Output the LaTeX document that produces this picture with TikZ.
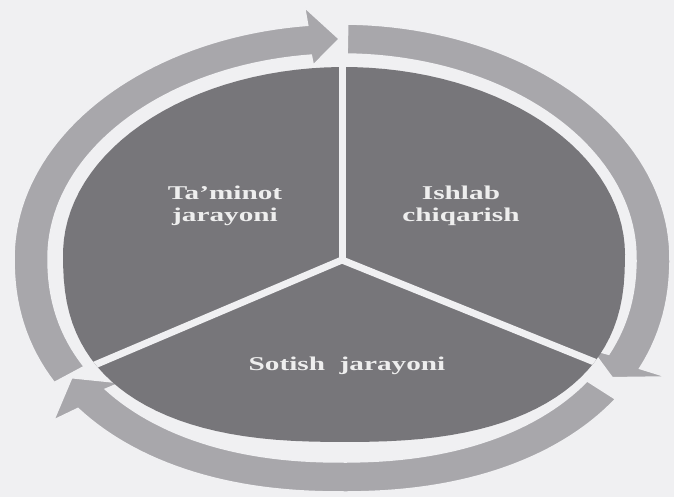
\documentclass[tikz,border=0pt]{standalone}
\usepackage{fontspec}
\newfontfamily\labelfont{Liberation Serif}[FakeStretch=1.5]

\definecolor{paper}{RGB}{240,240,242}
\definecolor{piegray}{RGB}{119,118,122}
\definecolor{ringgray}{RGB}{168,167,171}
\definecolor{labelwhite}{RGB}{238,238,238}

\tikzset{
  declare function={
    ex(\ang,\rad,\bul)=\rad*cos(\ang)*pow(abs(cos(\ang))+0.001,-\bul*(sin(\ang)<0));
    ey(\ang,\rad,\bul)=\rad*sin(\ang)*pow(abs(sin(\ang))+0.001,-\bul*(sin(\ang)<0));
  },
  ringarrow/.style={fill=ringgray, draw=paper, line width=1.5pt, line join=miter},
  divider/.style={draw=paper, line width=7pt},
  pietext/.style={text=labelwhite, align=center, inner sep=0pt,
    font=\labelfont\bfseries\fontsize{19.5}{22}\selectfont}
}

% one arrow of the ring: tail angle, angle of the head base, tip angle
\newcommand{\ringarrow}[3]{%
  \fill[ringarrow]
    plot[domain=#1:#2, samples=60] ({342+ex(\x,328,\rbul)}, {239+ey(\x,234,\rbul)})
    -- ({342+ex(#2,358,\rbul)}, {239+ey(#2,252,\rbul)})
    -- ({342+ex(#3,311,\rbul)}, {239+ey(#3,219,\rbul)})
    -- ({342+ex(#2,275,\rbul)}, {239+ey(#2,194,\rbul)})
    -- plot[domain=#2:#1, samples=60] ({342+ex(\x,294,\rbul)}, {239+ey(\x,204,\rbul)})
    -- cycle;}

\begin{document}
\begin{tikzpicture}[x=1pt, y=1pt]

      \fill[paper] (0,0) rectangle (674,497);
      \useasboundingbox (0,0) rectangle (674,497);

      % Bulge of the lower half of the ring and of the pie
      \def\rbul{0.09}
      \def\pbul{0.2}

      % Ring arrows
      \ringarrow{210}{96}{90.5}
      \ringarrow{-35}{-142}{-149}
      \ringarrow{89}{-26}{-31}

      % Pie with its three dividers
      \coordinate (hub) at (342,237);
      \begin{scope}
        \clip plot[domain=0:360, samples=120] ({344+ex(\x,281,\pbul)}, {242.5+ey(\x,187.5,\pbul)});
        \fill[piegray] (0,0) rectangle (674,497);
        \draw[divider] (hub) -- ++(90:220);
        \draw[divider] (hub) -- ++(203:300);
        \draw[divider] (hub) -- ++(-22:300);
      \end{scope}

      % Labels of the sectors
      \node[pietext] (supply) at (225,291) {Ta’minot\\jarayoni};
      \node[pietext] (making) at (461,291) {Ishlab\\chiqarish};
      \node[pietext] (sales) at (347,131.5) {Sotish~~jarayoni};

\end{tikzpicture}
\end{document}
